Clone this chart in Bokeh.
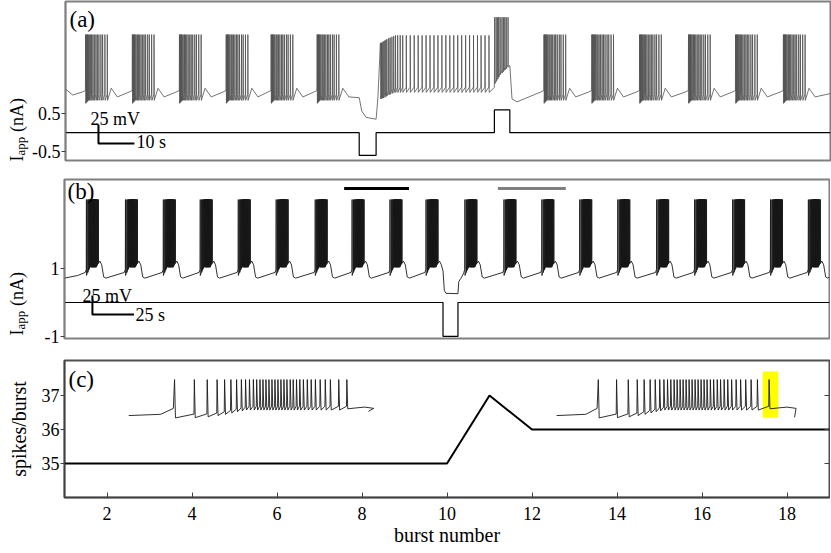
import numpy as np
from bokeh.plotting import figure
from bokeh.layouts import column, row
from bokeh.models import Label, LinearAxis, FixedTicker, Range1d
from bokeh.embed import file_html
from bokeh.resources import INLINE

FONT = "Liberation Serif"

# ---------------- panel (a): membrane potential + applied current ----------------
A_T_RANGE = (0.0, 212.8)            # time, s
A_Y_RANGE = (-0.737, 3.47)          # Iapp axis, nA
A_YTICKS = [-0.5, 0.5]
A_V_ZERO, A_V_GAIN = 0.895, 0.02    # axis value at -60 mV, axis units per mV (25 mV = 0.5)
A_BURST_ONSETS_PRE = [5.6, 18.6, 31.7, 44.7, 57.2, 70.0]
A_BURST_ONSETS_POST = [133.1, 146.4, 159.7, 173.3, 186.4, 199.7]
A_BURST_SPIKES = [0.0, 0.18, 0.36, 0.56, 0.75, 1.03, 1.39, 1.67, 2.03, 2.42, 2.86,
                  3.25, 3.69, 4.25, 4.72, 5.36, 6.03]
A_TONIC_SPIKES = [87.6, 87.9, 88.1, 88.4, 88.8, 89.1, 89.4, 89.9, 90.3, 90.8, 91.3,
                  91.8, 92.4, 93.1, 93.8, 94.8, 95.9, 97.0, 98.1, 99.2, 100.3, 101.4,
                  102.5, 103.6, 104.7, 105.8, 106.9, 108.0, 109.1, 110.2, 111.3,
                  112.4, 113.5, 114.6, 115.6, 116.7, 117.8]
A_DEPOL_SPIKES = [119.4, 119.8, 120.2, 120.5, 120.9, 121.4, 121.8, 122.2, 122.6, 123.1]
A_PULSE_ON = [81.7, 119.3]
A_PULSE_OFF = [86.4, 123.6]
A_IAPP_T = [0.0, 81.7, 81.7, 86.4, 86.4, 119.3, 119.3, 123.6, 123.6, 212.8]
A_IAPP = [0.0, 0.0, -0.6, -0.6, 0.0, 0.0, 0.6, 0.6, 0.0, 0.0]
A_SCALE = {"t0": 9.17, "y0": -0.289, "dt": 10.0, "dv": 25.0}

# ---------------- panel (b) ----------------
B_T_RANGE = (0.0, 460.4)
B_Y_RANGE = (-1.06, 3.62)
B_YTICKS = [-1, 1]
B_V_ZERO, B_V_GAIN = 0.706, 0.02235
B_BURST_ONSETS = [13.2, 36.7, 59.5, 81.7, 104.6, 127.4, 150.9, 173.1, 195.9, 217.6,
                  241.0, 264.5, 287.3, 310.1, 333.0, 356.4, 379.2, 402.1, 424.9, 447.7]
B_SPIKE_STRETCH = 1.25
B_PULSE = (227.8, 236.8)
B_IAPP_T = [0.0, 227.8, 227.8, 236.8, 236.8, 460.4]
B_IAPP = [0.0, 0.0, -1.0, -1.0, 0.0, 0.0]
B_SCALE = {"t0": 16.8, "y0": -0.353, "dt": 25.0, "dv": 25.0}
B_BAR_BLACK = (168.3, 207.3, 3.353)
B_BAR_GRAY = (260.8, 301.7, 3.353)

# ---------------- panel (c) ----------------
C_X_RANGE = (1.0, 19.0)
C_Y_RANGE = (34.0, 38.03)
C_XTICKS = [2, 4, 6, 8, 10, 12, 14, 16, 18]
C_YTICKS = [35, 36, 37]
C_BURST = [1, 2, 3, 4, 5, 6, 7, 8, 9, 10, 11, 12, 13, 14, 15, 16, 17, 18, 19]
C_SPIKES = [35, 35, 35, 35, 35, 35, 35, 35, 35, 35, 37, 36, 36, 36, 36, 36, 36, 36, 36]
# inset burst traces (time within burst, s)
INSET_L_SPIKES = [1.53, 2.19, 2.62, 2.95, 3.20, 3.41, 3.60, 3.76, 3.90, 4.03, 4.16, 4.27,
                  4.38, 4.48, 4.58, 4.68, 4.78, 4.88, 4.98, 5.08, 5.18, 5.28, 5.39, 5.49,
                  5.60, 5.71, 5.83, 5.96, 6.09, 6.23, 6.39, 6.56, 6.73, 7.01, 7.28]
INSET_R_SPIKES = [1.39, 2.00, 2.39, 2.69, 2.92, 3.12, 3.29, 3.44, 3.58, 3.70, 3.81, 3.92,
                  4.02, 4.12, 4.22, 4.32, 4.42, 4.52, 4.62, 4.72, 4.82, 4.92, 5.02, 5.13,
                  5.24, 5.36, 5.47, 5.59, 5.71, 5.84, 5.99, 6.14, 6.31, 6.49, 6.70, 7.09]
INSET_L = {"x0": 2.511, "t_end": 8.0, "v_end": -50.0}
INSET_R = {"x0": 12.58, "t_end": 7.94, "v_end": -64.0}
INSET_X_PER_S = 0.705
INSET_Y_ZERO, INSET_Y_GAIN = 36.41, 0.01246
HIGHLIGHT_T = (6.88, 7.40)
HIGHLIGHT_V = (-65.0, 44.0)

# ---------------- layout geometry (pixels) ----------------
STRIP_W = 29
LEFT_B = 35
FRAME_W = 765
FRAME_LEFT = STRIP_W + LEFT_B
FRAMES = {"a": (1.0, 160.0), "b": (179.0, 338.0), "c": (360.0, 497.0)}
FIG_TOP = {"a": 0.0, "b": 169.0, "c": 349.0}
BORDERS = {"a": (1, 9), "b": (10, 11), "c": (11, 55)}


def rx(xr, px):
    return xr[0] + (px - FRAME_LEFT) / FRAME_W * (xr[1] - xr[0])


def ry(panel, yr, py):
    top, bot = FRAMES[panel]
    return yr[1] - (py - top) / (bot - top) * (yr[1] - yr[0])


def pad(head, rest, n):
    return (list(head) + [rest] * n)[:n]


def spike_train(times, peaks, troughs, rise, up, down):
    pts = []
    for j, t in enumerate(times):
        if j > 0:
            pts.append((t - up, troughs[j - 1] + rise))
        pts.append((t, peaks[j]))
        pts.append((t + down, troughs[j]))
    return pts


# ---- build trace (a) ----
def a_burst(T):
    times = [T + o for o in A_BURST_SPIKES]
    n = len(times)
    tr = pad([-66, -65, -64, -63], -62, n)
    seg = [(T - 0.9, -51.0), (T - 0.05, -49.0)]
    seg += spike_train(times, [25.0] * n, tr, 8.0, 0.03, 0.06)
    L = times[-1]
    seg += [(L + 1.1, -46.0), (L + 2.8, -57.5)]
    return seg


a_pts = [(0.0, -47.0), (2.0, -55.0)]
for T in A_BURST_ONSETS_PRE:
    a_pts += a_burst(T)
on, off = A_PULSE_ON[0], A_PULSE_OFF[0]
a_pts += [(on, -58.5), (on + 0.7, -76.0), (on + 1.9, -84.5), (off, -87.0), (off + 0.5, -58.5)]
n = len(A_TONIC_SPIKES)
peaks = pad([14, 14, 15, 16, 17, 18, 19, 20, 21, 22, 23], 24.0, n)
tr = pad([-60, -60, -59, -59, -58, -57, -56, -55, -54, -53, -52], -51.5, n)
a_pts += spike_train(A_TONIC_SPIKES, peaks, tr, 7.0, 0.03, 0.06)
on, off = A_PULSE_ON[1], A_PULSE_OFF[1]
a_pts += [(on, -45.0)]
tr = [-40, -37, -34, -31, -28, -26, -24, -22, -20, -18]
a_pts += spike_train(A_DEPOL_SPIKES, [48.0] * len(tr), tr, 5.0, 0.02, 0.05)
a_pts += [(off, -16.0), (off + 0.6, -60.0), (off + 2.0, -64.0)]
for T in A_BURST_ONSETS_POST:
    a_pts += a_burst(T)
a_pts += [(A_T_RANGE[1], -53.0)]
a_t = [p[0] for p in a_pts]
a_v = [A_V_ZERO + (p[1] + 60.0) * A_V_GAIN for p in a_pts]

# ---- build trace (b) ----
B_OFFS = [(t - INSET_L_SPIKES[0]) * B_SPIKE_STRETCH for t in INSET_L_SPIKES]


def b_burst(T):
    times = [T + o for o in B_OFFS]
    n = len(times)
    tr = pad([-56, -52, -49, -47], -45, n)
    tr[-5:] = [-44, -43, -42, -41, -40]
    seg = [(T - 0.7, -52.0), (T - 0.1, -48.0)]
    seg += spike_train(times, [44.0] * n, tr, 6.0, 0.03, 0.05)
    L = times[-1]
    seg += [(L + 0.9, -37.0), (L + 2.0, -42.0)]
    return seg, L


b_pts = [(0.0, -59.5), (8.0, -56.0)]
for T in B_BURST_ONSETS:
    seg, L = b_burst(T)
    b_pts += seg
    if L < B_PULSE[0] < L + 6:
        p0, p1 = B_PULSE
        b_pts += [(p0, -50.0), (p0 + 0.8, -76.0), (p0 + 1.8, -79.5), (p1, -80.0),
                  (p1 + 0.5, -64.0), (p1 + 1.7, -60.0), (p1 + 3.2, -54.0)]
    else:
        b_pts += [(L + 3.2, -58.0), (L + 4.5, -59.5)]
b_pts += [(B_T_RANGE[1], -58.0)]
b_t = [p[0] for p in b_pts]
b_v = [B_V_ZERO + (p[1] + 60.0) * B_V_GAIN for p in b_pts]


# ---- inset traces (c) ----
def inset(spikes, cfg):
    n = len(spikes)
    t0 = spikes[0]
    pts = [(0.0, -60.0), (t0 * 0.7, -57.0), (t0 - 0.04, -43.0)]
    tr = pad([-65.5, -65, -63, -60, -57, -54, -51, -49], -47, n)
    tr[-1] = -44.0
    pts += spike_train(spikes, [25.0] * n, tr, 9.0, 0.012, 0.03)
    L = spikes[-1]
    pts += [(L + 0.3, -42.0), (L + 0.6, -40.0), (L + 0.9, -43.0), (cfg["t_end"], cfg["v_end"])]
    xs = [cfg["x0"] + p[0] * INSET_X_PER_S for p in pts]
    ys = [INSET_Y_ZERO + (p[1] + 60.0) * INSET_Y_GAIN for p in pts]
    return xs, ys


# ---------------- figures ----------------
def make_fig(panel, xr, yr, left_border, x_axis=False):
    ft, fb = FRAMES[panel]
    top, bottom = BORDERS[panel]
    p = figure(frame_width=FRAME_W, frame_height=int(fb - ft),
               x_range=Range1d(*xr), y_range=Range1d(*yr),
               output_backend="svg", toolbar_location=None,
               min_border_left=left_border, min_border_right=1,
               min_border_top=top, min_border_bottom=bottom,
               x_axis_type="linear" if x_axis else None)
    p.grid.visible = False
    p.outline_line_color = "#808080"
    p.outline_line_width = 2
    p.background_fill_color = "white"
    p.border_fill_color = "white"
    ya = p.yaxis[0]
    ya.major_label_text_font = FONT
    ya.major_label_text_font_size = "18px"
    ya.major_label_text_color = "black"
    ya.major_tick_out = 4
    ya.major_tick_in = 0
    ya.minor_tick_line_color = None
    ya.axis_line_color = "#808080"
    ya.axis_line_width = 1.5
    ya.major_tick_line_color = "#404040"
    ya.major_label_standoff = 1
    return p


def add_text(p, x, y, text, size, align="left", baseline="alphabetic", angle=0.0):
    p.add_layout(Label(x=x, y=y, text=text, text_font=FONT, text_font_size=size,
                       text_align=align, text_baseline=baseline, angle=angle,
                       text_color="black"))


def make_strip(panel, y_start):
    """Narrow canvas left of a panel holding the rotated I_app (nA) title."""
    top, bottom = BORDERS[panel]
    ft, fb = FRAMES[panel]
    h = int(top + (fb - ft) + bottom)
    y0 = FIG_TOP[panel]
    s = figure(frame_width=STRIP_W, frame_height=h,
               x_range=Range1d(0, STRIP_W), y_range=Range1d(y0 + h, y0),
               x_axis_type=None, y_axis_type=None, output_backend="svg",
               toolbar_location=None, min_border_left=0, min_border_right=0,
               min_border_top=0, min_border_bottom=0)
    s.grid.visible = False
    s.outline_line_color = None
    s.background_fill_color = "white"
    s.border_fill_color = "white"
    add_text(s, 16.5, y_start, "I", "18px", angle=np.pi / 2)
    add_text(s, 20.0, y_start - 6.0, "app", "13px", angle=np.pi / 2)
    add_text(s, 16.5, y_start - 29.5, "(nA)", "18px", angle=np.pi / 2)
    return s


# ---- panel (a) ----
pa = make_fig("a", A_T_RANGE, A_Y_RANGE, LEFT_B)
pa.yaxis[0].ticker = FixedTicker(ticks=A_YTICKS)
pa.yaxis[0].major_label_overrides = {-0.5: "-0.5", 0.5: "0.5"}
pa.line(A_IAPP_T, A_IAPP, line_color="black", line_width=1.2)
pa.line(a_t, a_v, line_color="#505050", line_width=0.8)
s = A_SCALE
pa.line([s["t0"], s["t0"], s["t0"] + s["dt"]],
        [s["y0"] + s["dv"] * A_V_GAIN, s["y0"], s["y0"]], line_color="black", line_width=2)
add_text(pa, rx(A_T_RANGE, 89), ry("a", A_Y_RANGE, 118), "25 mV", "18px")
add_text(pa, rx(A_T_RANGE, 135), ry("a", A_Y_RANGE, 141), "10 s", "18px", baseline="middle")
add_text(pa, rx(A_T_RANGE, 68), ry("a", A_Y_RANGE, 6), "(a)", "23px", baseline="top")

# ---- panel (b) ----
pb = make_fig("b", B_T_RANGE, B_Y_RANGE, LEFT_B)
pb.yaxis[0].ticker = FixedTicker(ticks=B_YTICKS)
pb.yaxis[0].major_label_overrides = {-1: "-1", 1: "1"}
pb.line(B_IAPP_T, B_IAPP, line_color="black", line_width=1.2)
pb.line(b_t, b_v, line_color="#1a1a1a", line_width=0.9)
s = B_SCALE
pb.line([s["t0"], s["t0"], s["t0"] + s["dt"]],
        [s["y0"] + s["dv"] * B_V_GAIN, s["y0"], s["y0"]], line_color="black", line_width=2)
pb.line([B_BAR_BLACK[0], B_BAR_BLACK[1]], [B_BAR_BLACK[2]] * 2, line_color="black", line_width=3)
pb.line([B_BAR_GRAY[0], B_BAR_GRAY[1]], [B_BAR_GRAY[2]] * 2, line_color="#808080", line_width=3)
add_text(pb, rx(B_T_RANGE, 82), ry("b", B_Y_RANGE, 295), "25 mV", "18px")
add_text(pb, rx(B_T_RANGE, 135), ry("b", B_Y_RANGE, 314), "25 s", "18px", baseline="middle")
add_text(pb, rx(B_T_RANGE, 67), ry("b", B_Y_RANGE, 178), "(b)", "23px", baseline="top")

# ---- panel (c) ----
pc = make_fig("c", C_X_RANGE, C_Y_RANGE, FRAME_LEFT, x_axis=True)
pc.outline_line_color = "#505050"
ya = pc.yaxis[0]
ya.ticker = FixedTicker(ticks=C_YTICKS)
ya.axis_line_color = "#404040"
ya.axis_label = "spikes/burst"
ya.axis_label_text_font = FONT
ya.axis_label_text_font_size = "20px"
ya.axis_label_text_font_style = "normal"
ya.axis_label_text_color = "black"
ya.axis_label_standoff = 9
xa = pc.xaxis[0]
xa.ticker = FixedTicker(ticks=C_XTICKS)
xa.major_tick_in = 5
xa.major_tick_out = 0
xa.minor_tick_line_color = None
xa.axis_line_color = "#404040"
xa.axis_line_width = 1.5
xa.major_tick_line_color = "#404040"
xa.major_label_text_font = FONT
xa.major_label_text_font_size = "18px"
xa.major_label_text_color = "black"
xa.major_label_standoff = 9
xa.axis_label = "burst number"
xa.axis_label_text_font = FONT
xa.axis_label_text_font_size = "20px"
xa.axis_label_text_font_style = "normal"
xa.axis_label_text_color = "black"
xa.axis_label_standoff = 1
right = LinearAxis(ticker=FixedTicker(ticks=C_YTICKS), major_tick_in=5, major_tick_out=0,
                   major_label_text_color=None, major_label_standoff=0,
                   axis_line_color=None, minor_tick_line_color=None,
                   major_tick_line_color="#404040")
pc.add_layout(right, "right")

hx0 = INSET_R["x0"] + HIGHLIGHT_T[0] * INSET_X_PER_S
hx1 = INSET_R["x0"] + HIGHLIGHT_T[1] * INSET_X_PER_S
hy0 = INSET_Y_ZERO + (HIGHLIGHT_V[0] + 60.0) * INSET_Y_GAIN
hy1 = INSET_Y_ZERO + (HIGHLIGHT_V[1] + 60.0) * INSET_Y_GAIN
pc.quad(left=[hx0], right=[hx1], bottom=[hy0], top=[hy1], fill_color="#ffff00", line_color=None)
xs, ys = inset(INSET_L_SPIKES, INSET_L)
pc.line(xs, ys, line_color="#1a1a1a", line_width=0.9)
xs, ys = inset(INSET_R_SPIKES, INSET_R)
pc.line(xs, ys, line_color="#1a1a1a", line_width=0.9)
pc.line(C_BURST, C_SPIKES, line_color="black", line_width=2)
add_text(pc, rx(C_X_RANGE, 68), ry("c", C_Y_RANGE, 366), "(c)", "23px", baseline="top")

layout = column(row(make_strip("a", FRAMES["a"][1]), pa, spacing=0),
                row(make_strip("b", 325.0), pb, spacing=0),
                pc, spacing=0)
open("out.html", "w").write(file_html(layout, INLINE))
